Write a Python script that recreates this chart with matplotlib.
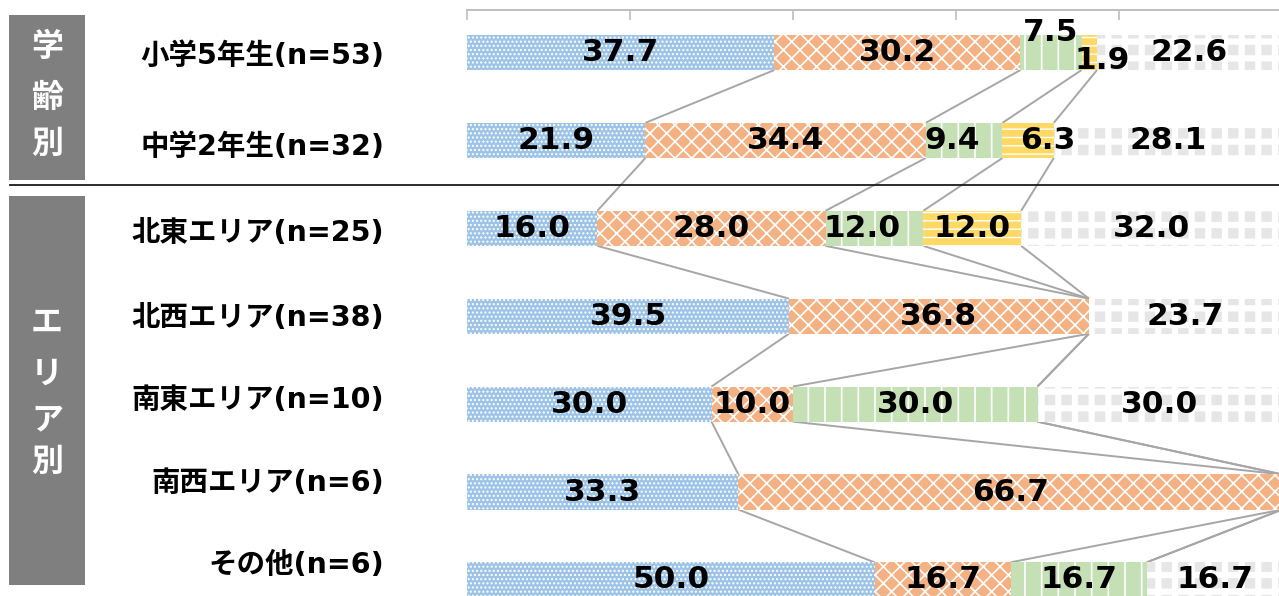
import matplotlib
matplotlib.use("Agg")
import matplotlib.pyplot as plt
from matplotlib.patches import Rectangle
from matplotlib.lines import Line2D
import numpy as np

categories = ["小学5年生(n=53)", "中学2年生(n=32)", "北東エリア(n=25)", "北西エリア(n=38)",
              "南東エリア(n=10)", "南西エリア(n=6)", "その他(n=6)"]
s1 = [37.7, 21.9, 16.0, 39.5, 30.0, 33.3, 50.0]
s2 = [30.2, 34.4, 28.0, 36.8, 10.0, 66.7, 16.7]
s3 = [7.5, 9.4, 12.0, 0.0, 30.0, 0.0, 16.7]
s4 = [1.9, 6.3, 12.0, 0.0, 0.0, 0.0, 0.0]
s5 = [22.6, 28.1, 32.0, 23.7, 30.0, 0.0, 16.7]
series = [s1, s2, s3, s4, s5]
group_titles = ["学齢別", "エリア別"]

styles = [
    dict(fc="#9DC3E6", hatch="....", hlw=1.0),
    dict(fc="#F4B183", hatch="xx", hlw=1.2),
    dict(fc="#C5E0B4", hatch="|", hlw=1.2),
    dict(fc="#FFD966", hatch="--", hlw=1.0),
    dict(fc="#E6E6E6", hatch="+", hlw=4.5),
]

W, H = 1279, 596
fig = plt.figure(figsize=(W / 100, H / 100), dpi=100)

def fx(px):
    return px / W

def fy(py):
    return 1 - py / H

ax_left, ax_right, ax_top, ax_bottom = 467, 1282, 10, 596
ax = fig.add_axes([fx(ax_left), 0, (ax_right - ax_left) / W, (ax_bottom - ax_top) / H])
row0_px, row_step = 52.5, 87.9
ax.set_xlim(0, 100)
ax.set_ylim(6 + (ax_bottom - (row0_px + 6 * row_step)) / row_step, -(row0_px - ax_top) / row_step)
ax.set_facecolor("none")

n = len(categories)
y = np.arange(n)
bh = 0.40
left = np.zeros(n)
cums = []
for vals, st in zip(series, styles):
    vals = np.array(vals)
    with plt.rc_context({"hatch.linewidth": st["hlw"]}):
        ax.barh(y, vals, left=left, height=bh, color=st["fc"], edgecolor="white",
                linewidth=0, hatch=st["hatch"], zorder=2)
    left = left + vals
    cums.append(left.copy())

# series connector lines
for c in cums[:-1]:
    for i in range(n - 1):
        ax.plot([c[i], c[i + 1]], [y[i] + bh / 2, y[i + 1] - bh / 2], color="#A6A6A6",
                lw=1.4, zorder=1, solid_capstyle="butt")

# value labels
offsets = {(0, 2): (0, -20), (0, 3): (13, 8), (1, 2): (-12, 0), (1, 3): (20, 0), (2, 2): (-12, 0)}
start = np.zeros(n)
for k, vals in enumerate(series):
    for i, v in enumerate(vals):
        if v > 0:
            dx, dy = offsets.get((i, k), (0, 0))
            ax.annotate(f"{v:.1f}", (start[i] + v / 2, y[i]), xytext=(dx * 0.72, -dy * 0.72),
                        textcoords="offset points", ha="center", va="center",
                        fontsize=22.5, fontweight="bold", color="black",
                        family=["DejaVu Sans"], zorder=5)
        start[i] += v

# top axis
ax.xaxis.set_ticks_position("top")
ax.set_xticks([0, 20, 40, 60, 80, 100])
ax.tick_params(axis="x", direction="in", length=7.2, width=1.2, color="#BFBFBF",
               labeltop=False, labelbottom=False)
ax.set_yticks([])
for s in ["left", "right", "bottom"]:
    ax.spines[s].set_visible(False)
ax.spines["top"].set_color("#BFBFBF")
ax.spines["top"].set_linewidth(1.4)

# category labels
label_px = [56, 147, 233, 318, 400, 483, 565]
for lab, py in zip(categories, label_px):
    fig.text(fx(384), fy(py), lab, ha="right", va="center", fontsize=20.5, fontweight="bold",
             family=["DejaVu Sans", "Noto Sans CJK JP"], color="black")

# group boxes
boxes = [(9, 15, 85, 180), (9, 196, 85, 585)]
char_pos = [[47, 98, 144], [323, 375, 420, 462]]
for (x0, y0, x1, y1), title, cps in zip(boxes, group_titles, char_pos):
    fig.patches.append(Rectangle((fx(x0), fy(y1)), fx(x1 - x0), (y1 - y0) / H,
                                 transform=fig.transFigure, facecolor="#7F7F7F",
                                 edgecolor="none", zorder=0))
    for ch, py in zip(title, cps):
        fig.text(fx((x0 + x1) / 2), fy(py), ch, ha="center", va="center", fontsize=23,
                 fontweight="bold", family=["Noto Sans CJK JP"], color="white")

# separator
fig.add_artist(Line2D([fx(10), fx(1279)], [fy(185), fy(185)], color="#1A1A1A", lw=1.3,
                      transform=fig.transFigure))

fig.savefig("out.png", dpi=100)
